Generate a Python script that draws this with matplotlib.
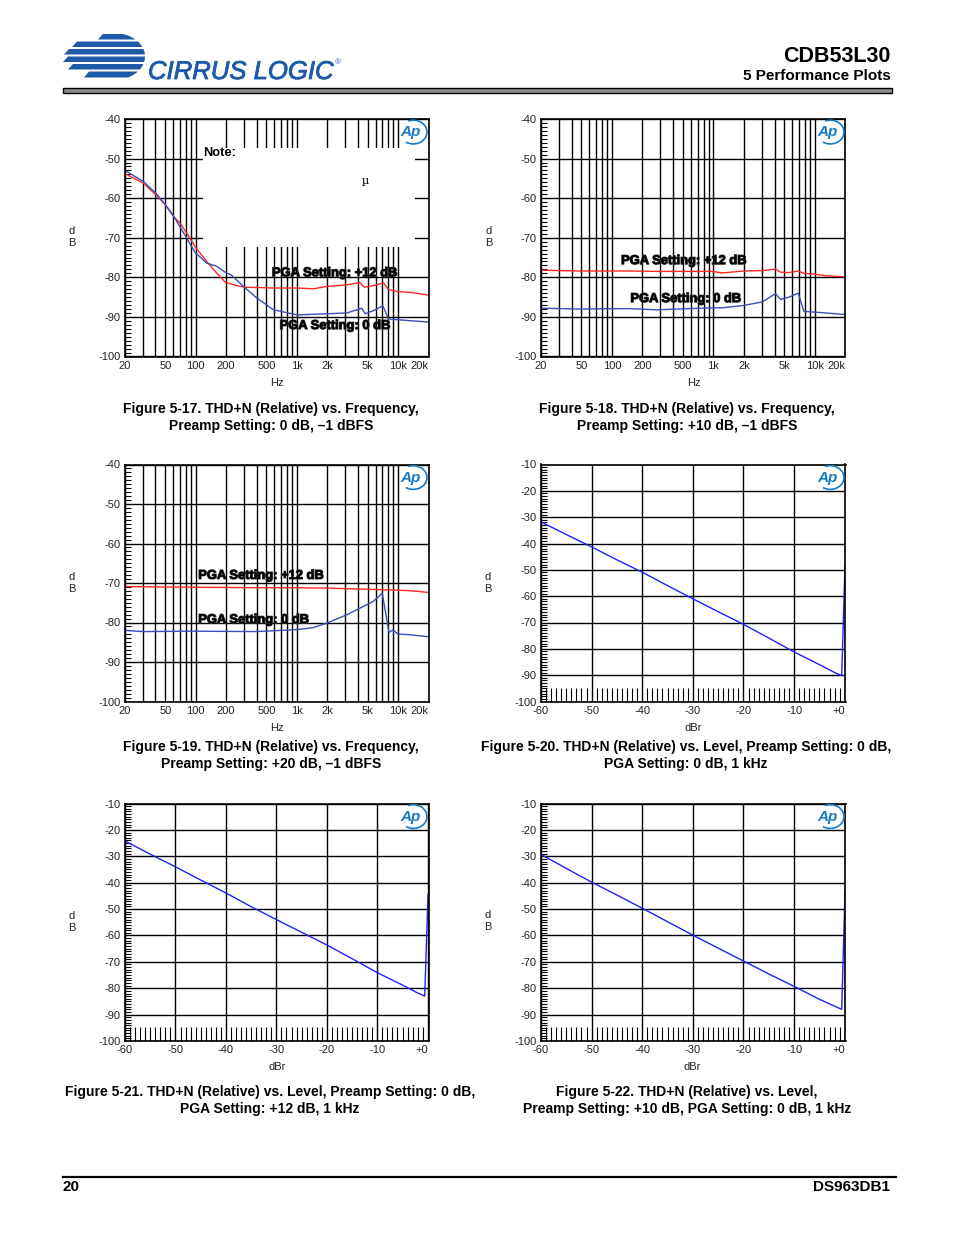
import numpy as np
import matplotlib.pyplot as plt
from matplotlib.patches import Rectangle, Polygon, Arc
from matplotlib.ticker import FixedLocator, MultipleLocator, LogLocator, NullFormatter
import matplotlib.patheffects as pe

plt.rcParams['font.family'] = ['Liberation Sans', 'DejaVu Sans']

# ---------------- data ----------------
freq_ticks = [20, 50, 100, 200, 500, 1000, 2000, 5000, 10000, 20000]
freq_tick_labels = ['20', '50', '100', '200', '500', '1k', '2k', '5k', '10k', '20k']
level_ticks = [-60, -50, -40, -30, -20, -10, 0]
level_tick_labels = ['-60', '-50', '-40', '-30', '-20', '-10', '+0']

# Figure 5-17 (preamp 0 dB)
f517_freq12 = [20, 30.4, 40.2, 50.3, 60.1, 70, 81.5, 100.8, 128.5, 161, 195, 254, 308, 586,
               1013, 1459, 1977, 3118, 4222, 4624, 5719, 7180, 8050, 9730, 13190, 20000]
f517_pga12 = [-53.8, -56.2, -59.1, -61.7, -64.6, -66.3, -68.8, -72.6, -76.0, -78.9, -81.2, -82.1,
              -82.5, -82.7, -82.7, -82.9, -82.3, -81.9, -81.3, -82.5, -82.1, -81.4, -83.1, -83.6,
              -83.8, -84.5]
f517_freq0 = [20, 30.4, 40.2, 50.3, 60.1, 81.5, 98.5, 128.5, 161, 195, 227, 296, 401, 586,
              1013, 1977, 3118, 4386, 4733, 5719, 7077, 8050, 9730, 20000]
f517_pga0 = [-53.0, -55.8, -58.7, -61.7, -64.4, -70.1, -73.7, -76.4, -77.2, -78.7, -79.5, -82.3,
             -85.2, -88.2, -89.5, -89.2, -89.0, -87.8, -89.2, -88.4, -87.2, -90.5, -90.7, -91.3]

# Figure 5-18 (preamp +10 dB)
f518_freq = [20, 47.6, 147.8, 270, 459, 977, 1224, 2000, 3030, 4095, 4590, 5547, 6846, 7786,
             10140, 12710, 20000]
f518_pga12 = [-78.2, -78.4, -78.4, -78.5, -78.5, -78.5, -78.9, -78.4, -78.3, -77.9, -78.7, -78.8,
              -78.4, -79.0, -79.2, -79.6, -79.9]
f518_pga0 = [-87.8, -88.0, -87.9, -88.2, -88.0, -87.7, -87.7, -87.1, -86.2, -84.1, -85.6, -85.0,
             -84.0, -88.6, -88.8, -89.0, -89.4]

# Figure 5-19 (preamp +20 dB)
f519_freq12 = [20, 44.3, 138, 430, 1004, 1955, 5236, 9594, 14000, 20000]
f519_pga12 = [-70.9, -71.0, -71.1, -71.2, -71.2, -71.3, -71.6, -71.8, -72.0, -72.4]
f519_freq0 = [20, 30.3, 94.5, 398, 1004, 1445, 1955, 3080, 4496, 5646, 6980, 8130, 8900, 9960,
              12990, 20000]
f519_pga0 = [-82.0, -82.3, -82.2, -82.3, -81.8, -81.3, -80.2, -78.1, -76.0, -74.7, -72.6, -82.5,
             -81.9, -82.9, -83.1, -83.6]

# Level sweeps
lvl_dbr = [-60, -55, -50, -45, -40, -35, -30, -25, -20, -15, -10, -5, -2, -0.6, 0.05]
f520_thdn = [-31.8, -36.6, -41.3, -46.2, -50.9, -56.0, -61.0, -65.9, -70.7, -75.9, -81.2, -86.0,
             -89.0, -90.2, -48.3]
f521_thdn = [-24.2, -29.2, -34.0, -39.0, -43.9, -49.1, -54.0, -58.8, -63.6, -68.8, -74.1, -78.8,
             -81.8, -83.0, -44.5]
f522_thdn = [-29.3, -34.6, -39.8, -44.7, -49.7, -54.8, -59.9, -64.8, -69.7, -74.6, -79.3, -84.2,
             -86.8, -88.0, -44.0]

captions = [
    ("Figure 5-17. THD+N (Relative) vs. Frequency,", "Preamp Setting: 0 dB, \u20131 dBFS"),
    ("Figure 5-18. THD+N (Relative) vs. Frequency,", "Preamp Setting: +10 dB, \u20131 dBFS"),
    ("Figure 5-19. THD+N (Relative) vs. Frequency,", "Preamp Setting: +20 dB, \u20131 dBFS"),
    ("Figure 5-20. THD+N (Relative) vs. Level, Preamp Setting: 0 dB,", "PGA Setting: 0 dB, 1 kHz"),
    ("Figure 5-21. THD+N (Relative) vs. Level, Preamp Setting: 0 dB,", "PGA Setting: +12 dB, 1 kHz"),
    ("Figure 5-22. THD+N (Relative) vs. Level,", "Preamp Setting: +10 dB, PGA Setting: 0 dB, 1 kHz"),
]

RED = '#ff2626'
BLUE = '#3a50b8'
LVL_BLUE = '#2020ff'
AP_BLUE = '#1b7ac4'
LOGO_BLUE = '#1e5aa8'

W, H = 954, 1235
fig = plt.figure(figsize=(W / 100, H / 100), dpi=100)

# page overlay in pixel coordinates
page = fig.add_axes([0, 0, 1, 1])
page.set_xlim(0, W)
page.set_ylim(H, 0)
page.axis('off')


def rect(x0, y0, x1, y1):
    return [x0 / W, 1 - y1 / H, (x1 - x0) / W, (y1 - y0) / H]


def ap_logo(ax):
    ax.text(0.94, 0.945, 'Ap', transform=ax.transAxes, fontsize=11, fontstyle='italic',
            fontweight='bold', color=AP_BLUE, ha='center', va='center', zorder=5)
    ax.add_patch(Arc((0.95, 0.945), 0.09, 0.10, theta1=-120, theta2=110,
                     transform=ax.transAxes, color=AP_BLUE, lw=1.2, zorder=5))


def style_common(ax):
    for s in ax.spines.values():
        s.set_linewidth(1.2)
    ax.set_axisbelow(True)
    ax.tick_params(which='major', length=0, labelsize=8, pad=3, labelcolor='#222222')
    ax.yaxis.set_minor_locator(MultipleLocator(1))
    ax.tick_params(axis='y', which='minor', direction='in', length=4, width=0.8)
    ax.grid(axis='y', which='major', color='black', lw=1.0)
    # last x label sits flush with the right frame
    ax.get_xticklabels()[-1].set_horizontalalignment('right')
    ax.get_xticklabels()[-1].set_x(ax.get_xlim()[1])


def freq_axes(box):
    ax = fig.add_axes(rect(*box))
    ax.set_xscale('log')
    ax.set_xlim(20, 20000)
    ax.set_ylim(-100, -40)
    ax.xaxis.set_major_locator(FixedLocator(freq_ticks))
    ax.set_xticklabels(freq_tick_labels)
    ax.xaxis.set_minor_locator(LogLocator(base=10, subs=np.arange(1, 10), numticks=50))
    ax.xaxis.set_minor_formatter(NullFormatter())
    ax.set_yticks(range(-100, -39, 10))
    ax.set_yticklabels([str(v) for v in range(-100, -39, 10)])
    style_common(ax)
    ax.tick_params(axis='x', which='minor', length=0)
    ax.grid(axis='x', which='both', color='black', lw=1.0)
    ap_logo(ax)
    return ax


def level_axes(box):
    ax = fig.add_axes(rect(*box))
    ax.set_xlim(-60, 0.15)
    ax.set_ylim(-100, -10)
    ax.set_xticks(level_ticks)
    ax.set_xticklabels(level_tick_labels)
    ax.set_yticks(range(-100, -9, 10))
    ax.set_yticklabels([str(v) for v in range(-100, -9, 10)])
    style_common(ax)
    ax.xaxis.set_minor_locator(MultipleLocator(1))
    ax.tick_params(axis='x', which='minor', direction='in', length=10, width=0.8)
    ax.grid(axis='x', which='major', color='black', lw=1.0)
    ap_logo(ax)
    return ax


def pga_label(ax, x, y, s):
    ax.text(x, y, s, fontsize=9.3, fontweight='bold', ha='left', va='center', zorder=4,
            path_effects=[pe.withStroke(linewidth=0.9, foreground='#333333')])


L = (125, 428.5)
R = (541, 845.5)

# ---- Figure 5-17 ----
ax1 = freq_axes((L[0], 119, L[1], 356.5))
ax1.add_patch(Rectangle((0.256, 0.459), 0.701, 0.42, transform=ax1.transAxes,
                        facecolor='white', edgecolor='none', zorder=1))
ax1.text(0.257, 0.858, 'Note:', transform=ax1.transAxes, fontsize=9.3, fontweight='bold',
         ha='left', va='center', zorder=3)
ax1.text(0.792, 0.737, '\u00b5', transform=ax1.transAxes, fontsize=8, family='DejaVu Serif',
         ha='center', va='center', zorder=3)
ax1.plot(f517_freq12, f517_pga12, color=RED, lw=1.0, zorder=2)
ax1.plot(f517_freq0, f517_pga0, color=BLUE, lw=1.0, zorder=2)
pga_label(ax1, 567, -79.0, 'PGA Setting: +12 dB')
pga_label(ax1, 675, -92.3, 'PGA Setting: 0 dB')

# ---- Figure 5-18 ----
ax2 = freq_axes((R[0], 119, R[1], 356.5))
ax2.plot(f518_freq, f518_pga12, color=RED, lw=1.0, zorder=2)
ax2.plot(f518_freq, f518_pga0, color=BLUE, lw=1.0, zorder=2)
pga_label(ax2, 123, -75.9, 'PGA Setting: +12 dB')
pga_label(ax2, 152, -85.5, 'PGA Setting: 0 dB')

# ---- Figure 5-19 ----
ax3 = freq_axes((L[0], 464.5, L[1], 701.5))
ax3.plot(f519_freq12, f519_pga12, color=RED, lw=1.0, zorder=2)
ax3.plot(f519_freq0, f519_pga0, color=BLUE, lw=1.0, zorder=2)
pga_label(ax3, 106, -68.2, 'PGA Setting: +12 dB')
pga_label(ax3, 106, -79.4, 'PGA Setting: 0 dB')

# ---- Figures 5-20 .. 5-22 ----
ax4 = level_axes((R[0], 464.5, R[1], 701.5))
ax4.plot(lvl_dbr, f520_thdn, color=LVL_BLUE, lw=1.0, zorder=2)
ax5 = level_axes((L[0], 803.5, L[1], 1041))
ax5.plot(lvl_dbr, f521_thdn, color=LVL_BLUE, lw=1.0, zorder=2)
ax6 = level_axes((R[0], 803.5, R[1], 1041))
ax6.plot(lvl_dbr, f522_thdn, color=LVL_BLUE, lw=1.0, zorder=2)

# axis labels
for x, y in [(72, 237), (489, 237), (72, 583), (488, 583), (72, 922), (488, 921)]:
    page.text(x, y, 'd\nB', fontsize=8, ha='center', va='center', linespacing=1.25, color='#222222')
for x, y, s in [(277, 383, 'Hz'), (694, 383, 'Hz'), (277, 728, 'Hz'), (693, 728, 'dBr'),
                (277, 1067, 'dBr'), (692, 1067, 'dBr')]:
    page.text(x, y, s, fontsize=8, ha='center', va='center', color='#222222')

# captions
cap_pos = [(271, 409), (687, 409), (271, 747), (686, 747), (270, 1092), (687, 1092)]
for (x, y), (l1, l2) in zip(cap_pos, captions):
    page.text(x, y, l1, fontsize=10, fontweight='bold', ha='center', va='center')
    page.text(x, y + 17, l2, fontsize=10, fontweight='bold', ha='center', va='center')

# header
page.text(891, 62, 'CDB53L30', fontsize=15.5, fontweight='bold', ha='right', va='baseline')
page.text(891, 80, '5 Performance Plots', fontsize=11, fontweight='bold', ha='right', va='baseline')
page.add_patch(Rectangle((63, 88), 829, 5, facecolor='#8c8c8c', edgecolor='black', lw=1))

# Cirrus logo: striped globe
cx, cy, rx, ry = 114, 56.5, 31, 23.5
stripes = [(34, 39.5, 98), (41.5, 47, 72), (49, 54.5, 64), (56.5, 62, 63), (64, 69.5, 68),
           (71.5, 77.5, 84)]
for y0, y1, xl in stripes:
    ys = np.linspace(y0, y1, 12)
    xs = cx + rx * np.sqrt(np.clip(1 - ((ys - cy) / ry) ** 2, 0, 1))
    pts = [(xl + 5, y0)] + list(zip(xs, ys)) + [(xl, y1)]
    page.add_patch(Polygon(pts, closed=True, facecolor=LOGO_BLUE, edgecolor='none'))
page.text(148, 79, 'CIRRUS LOGIC', fontsize=18.5, fontstyle='italic', color=LOGO_BLUE,
          ha='left', va='baseline',
          path_effects=[pe.withStroke(linewidth=0.6, foreground=LOGO_BLUE)])
page.text(335, 63, '\u00ae', fontsize=6, color=LOGO_BLUE, ha='left', va='center')

# footer
page.plot([63, 896], [1177, 1177], color='black', lw=1.6)
page.text(63, 1187, '20', fontsize=11, fontweight='bold', ha='left', va='center')
page.text(890, 1187, 'DS963DB1', fontsize=11, fontweight='bold', ha='right', va='center')

fig.savefig('out.png', dpi=100)
